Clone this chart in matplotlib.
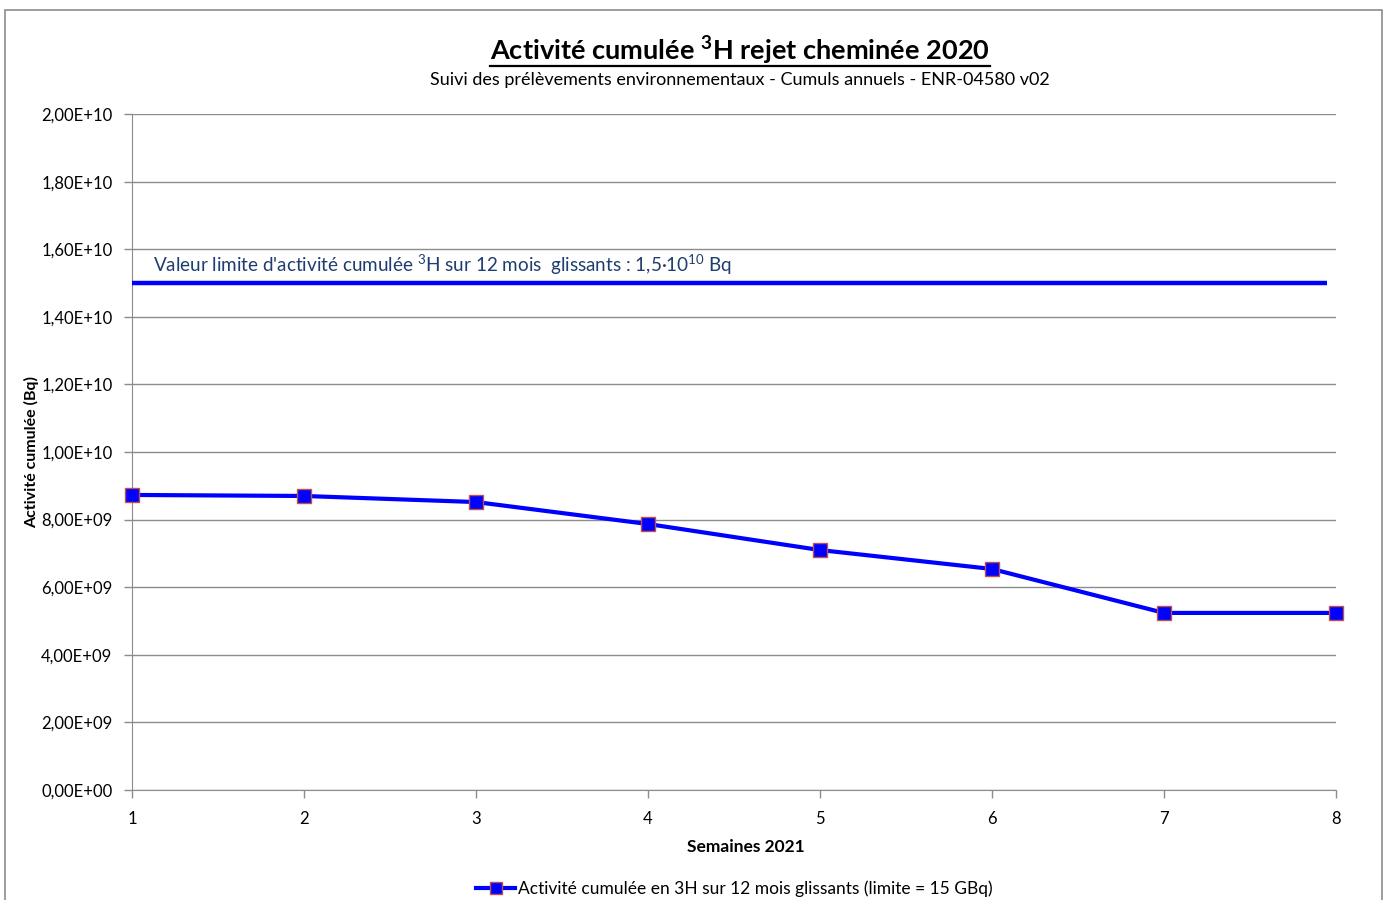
import matplotlib
matplotlib.use("Agg")
import matplotlib.pyplot as plt
from matplotlib.ticker import FuncFormatter, MultipleLocator
from matplotlib.patches import Rectangle
from matplotlib.lines import Line2D

plt.rcParams['font.family'] = ['Lato', 'DejaVu Sans']
plt.rcParams['mathtext.fontset'] = 'custom'
plt.rcParams['mathtext.rm'] = 'Lato'
plt.rcParams['mathtext.bf'] = 'Lato:bold'

# data
weeks = [1, 2, 3, 4, 5, 6, 7, 8]
activity = [8.73e9, 8.70e9, 8.52e9, 7.87e9, 7.10e9, 6.54e9, 5.24e9, 5.24e9]
limit = 1.5e10

fig = plt.figure(figsize=(13.86, 9), dpi=100)
ax = fig.add_axes([0.0952, 0.1222, 0.8687, 0.7511])
cx = 0.534  # horizontal centre of the title block

# outer chart border
fig.patches.append(Rectangle((0.0036, -0.01), 0.9935, 0.9989, transform=fig.transFigure,
                             fill=False, edgecolor='#8c8c8c', linewidth=1.2))

ax.plot(weeks, activity, color='#0000ff', linewidth=3, marker='s', markersize=10,
        markerfacecolor='#0000ff', markeredgecolor='#c0504d', markeredgewidth=1,
        clip_on=False, zorder=5)
ax.hlines(limit, 1, 7.95, color='#0000ff', linewidth=3.2, zorder=4)
ax.text(1.12, 1.553e10,
        r"Valeur limite d'activité cumulée $\mathrm{{}^{3}H}$ sur 12 mois  glissants : 1,5·10$\mathrm{{}^{10}}$ Bq",
        color='#1f3d6e', fontsize=13.6, va='center')

ax.set_xlim(1, 8)
ax.set_ylim(0, 2e10)
ax.yaxis.set_major_locator(MultipleLocator(2e9))
ax.xaxis.set_major_locator(MultipleLocator(1))
ax.yaxis.set_major_formatter(FuncFormatter(lambda v, p: f"{v:.2E}".replace('.', ',')))
ax.grid(axis='y', color='#8c8c8c', linewidth=1)
ax.set_axisbelow(True)
for s in ['top', 'right']:
    ax.spines[s].set_visible(False)
for s in ['left', 'bottom']:
    ax.spines[s].set_color('#8c8c8c')
ax.tick_params(axis='both', direction='out', length=6, color='#8c8c8c', labelsize=12, width=1)
ax.tick_params(axis='y', pad=8)
ax.tick_params(axis='x', pad=9)

ax.set_xlabel('Semaines 2021', fontsize=12.5, fontweight='bold')
ax.xaxis.set_label_coords(0.510, -0.072)
ax.yaxis.set_label_coords(-0.077, 0.525)
ax.set_ylabel('Activité cumulée (Bq)', fontsize=11.5, fontweight='bold')

title = fig.text(cx, 0.944, r'Activité cumulée $\mathbf{{}^{3}H}$ rejet cheminée 2020', ha='center',
                 va='center', fontsize=19.5, fontweight='bold')
fig.text(cx, 0.911, 'Suivi des prélèvements environnementaux - Cumuls annuels - ENR-04580 v02',
         ha='center', va='center', fontsize=13)

# underline the title
fig.canvas.draw()
bb = title.get_window_extent(fig.canvas.get_renderer()).transformed(fig.transFigure.inverted())
fig.add_artist(Line2D([bb.x0, bb.x1], [bb.y0 + 0.001, bb.y0 + 0.001], color='black',
                      linewidth=1.6, transform=fig.transFigure))

handle = Line2D([], [], color='#0000ff', linewidth=3, marker='s', markersize=9,
                markerfacecolor='#0000ff', markeredgecolor='#c0504d')
fig.legend([handle], ['Activité cumulée en 3H sur 12 mois glissants (limite = 15 GBq)'],
           loc='center', bbox_to_anchor=(0.530, 0.013), frameon=False, fontsize=12.5,
           handlelength=2.2, handletextpad=0.2)

fig.savefig('out.png', dpi=100)
